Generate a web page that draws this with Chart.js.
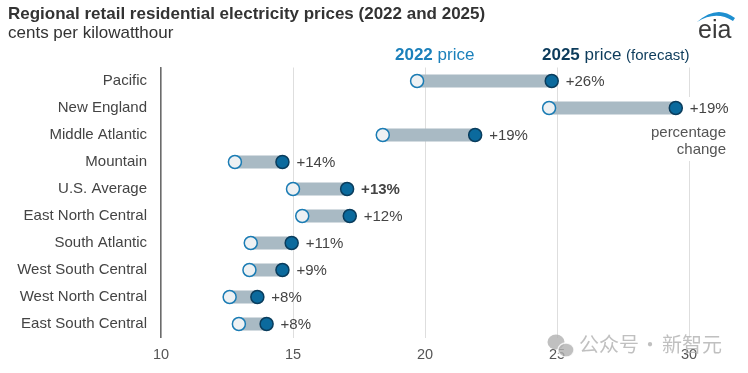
<!DOCTYPE html>
<html>
<head>
<meta charset="utf-8">
<script src="https://cdn.jsdelivr.net/npm/chart.js@4/dist/chart.umd.min.js"></script>
<style>
  html, body { margin: 0; padding: 0; background: #ffffff; }
  #wrap { width: 748px; height: 373px; position: relative; }
  canvas { display: block; }
</style>
</head>
<body>
<div id="wrap"><canvas id="c" width="748" height="373"></canvas></div>
<script>
// ---- data ----
const regions = ["Pacific", "New England", "Middle Atlantic", "Mountain", "U.S. Average",
  "East North Central", "South Atlantic", "West South Central", "West North Central", "East South Central"];
const price2022 = [19.7, 24.7, 18.4, 12.8, 15.0, 15.35, 13.4, 13.35, 12.6, 12.95];
const price2025 = [24.8, 29.5, 21.9, 14.6, 17.05, 17.15, 14.95, 14.6, 13.65, 14.0];
const pctChange = ["+26%", "+19%", "+19%", "+14%", "+13%", "+12%", "+11%", "+9%", "+8%", "+8%"];
const xTicks = [10, 15, 20, 25, 30];

const FONT = "'Liberation Sans', Arial, Helvetica, sans-serif";
const rangeBars = price2022.map((v, i) => [v, price2025[i]]);

const overlay = {
  id: 'overlay',
  afterDatasetsDraw(chart) {
    const ctx = chart.ctx;
    const xs = chart.scales.x, ys = chart.scales.y;
    ctx.save();
    // white backing behind New England label + note
    const neX = xs.getPixelForValue(price2025[1]) + 13;
    ctx.fillStyle = '#ffffff';
    ctx.fillRect(neX - 2, ys.getPixelForValue(1) - 11, 730 - neX + 2, 64);
    ctx.textBaseline = 'middle';
    ctx.textAlign = 'left';
    for (let i = 0; i < regions.length; i++) {
      const x = xs.getPixelForValue(price2025[i]) + 14;
      const y = ys.getPixelForValue(i) + 1;
      ctx.font = (regions[i] === 'U.S. Average' ? 'bold ' : '') + '15px ' + FONT;
      ctx.fillStyle = '#444444';
      ctx.fillText(pctChange[i], x, y);
    }
    ctx.textAlign = 'right';
    ctx.font = '15px ' + FONT;
    ctx.fillStyle = '#555555';
    ctx.fillText('percentage', 726, 133);
    ctx.fillText('change', 726, 150);
    ctx.restore();
  },
  afterDraw(chart) {
    const ctx = chart.ctx;
    ctx.save();
    ctx.textBaseline = 'middle';
    ctx.textAlign = 'left';
    // title / subtitle
    ctx.fillStyle = '#333333';
    ctx.font = 'bold 17px ' + FONT;
    ctx.fillText('Regional retail residential electricity prices (2022 and 2025)', 8, 14);
    ctx.font = '17px ' + FONT;
    ctx.fillText('cents per kilowatthour', 8, 33);
    // legend header
    let x = 395;
    ctx.fillStyle = '#1b80bb';
    ctx.font = 'bold 17px ' + FONT;
    ctx.fillText('2022', x, 55);
    x += ctx.measureText('2022 ').width;
    ctx.font = '17px ' + FONT;
    ctx.fillText('price', x, 55);
    x = 542;
    ctx.fillStyle = '#0c3b5b';
    ctx.font = 'bold 17px ' + FONT;
    ctx.fillText('2025', x, 55);
    x += ctx.measureText('2025 ').width;
    ctx.font = '17px ' + FONT;
    ctx.fillText('price', x, 55);
    x += ctx.measureText('price ').width;
    ctx.font = '15px ' + FONT;
    ctx.fillText('(forecast)', x, 56);
    // eia logo
    ctx.fillStyle = '#3a3a3a';
    ctx.font = '500 25px ' + FONT;
    ctx.fillText('eia', 698, 31);
    ctx.fillStyle = '#1e8fd0';
    ctx.beginPath();
    ctx.moveTo(697, 22);
    ctx.quadraticCurveTo(717, 4, 735, 18);
    ctx.lineTo(733, 21);
    ctx.quadraticCurveTo(716, 10, 697, 22);
    ctx.closePath();
    ctx.fill();
    // watermark
    ctx.globalAlpha = 0.8;
    ctx.fillStyle = '#b0b0b0';
    ctx.beginPath(); ctx.ellipse(556, 342, 8.5, 7.5, 0, 0, Math.PI * 2); ctx.fill();
    ctx.strokeStyle = '#ffffff'; ctx.lineWidth = 1.5;
    ctx.beginPath(); ctx.ellipse(566, 350, 8, 7, 0, 0, Math.PI * 2); ctx.fill(); ctx.stroke();
    ctx.font = "20px 'Noto Sans CJK SC', sans-serif";
    ctx.fillStyle = '#b0b0b0';
    ctx.fillText('公众号', 579, 344);
    ctx.textAlign = 'center';
    ctx.fillText('·', 650, 344);
    ctx.textAlign = 'left';
    ctx.fillText('新智元', 662, 344);
    ctx.restore();
  }
};

new Chart(document.getElementById('c'), {
  type: 'bar',
  data: {
    labels: regions,
    datasets: [
      {
        type: 'line', label: '2025 price (forecast)', data: price2025, order: 0,
        showLine: false, pointRadius: 6.5, pointHoverRadius: 6.5, pointBorderWidth: 1.5,
        pointBackgroundColor: '#0b6a9d', pointBorderColor: '#0a3d5d'
      },
      {
        type: 'line', label: '2022 price', data: price2022, order: 1,
        showLine: false, pointRadius: 6.5, pointHoverRadius: 6.5, pointBorderWidth: 1.5,
        pointBackgroundColor: '#eef1f3', pointBorderColor: '#1b7cb4'
      },
      {
        type: 'bar', label: 'change', data: rangeBars, order: 2,
        backgroundColor: '#a9bac4', borderWidth: 0, barThickness: 12.5, borderSkipped: false
      }
    ]
  },
  options: {
    indexAxis: 'y',
    responsive: false,
    animation: false,
    devicePixelRatio: 1,
    layout: { padding: { top: 67.5, right: 59, bottom: 0, left: 0 } },
    plugins: { legend: { display: false }, tooltip: { enabled: false } },
    scales: {
      x: {
        type: 'linear', min: xTicks[0], max: xTicks[xTicks.length - 1], position: 'bottom',
        afterBuildTicks(s) { s.ticks = xTicks.map(v => ({ value: v })); },
        ticks: { color: '#555555', font: { family: FONT, size: 14.5 }, padding: 9 },
        grid: { color: '#dedede', lineWidth: 1, drawTicks: false },
        border: { display: false },
        afterFit(s) { s.height = 35.5; }
      },
      y: {
        type: 'category', position: 'left', offset: true,
        ticks: { color: '#444444', font: { family: FONT, size: 15 }, padding: 14 },
        grid: { display: false, drawTicks: false },
        border: { display: true, color: '#6b6b6b', width: 1.5 },
        afterFit(s) { s.width = 161; }
      }
    }
  },
  plugins: [overlay]
});
</script>
</body>
</html>
